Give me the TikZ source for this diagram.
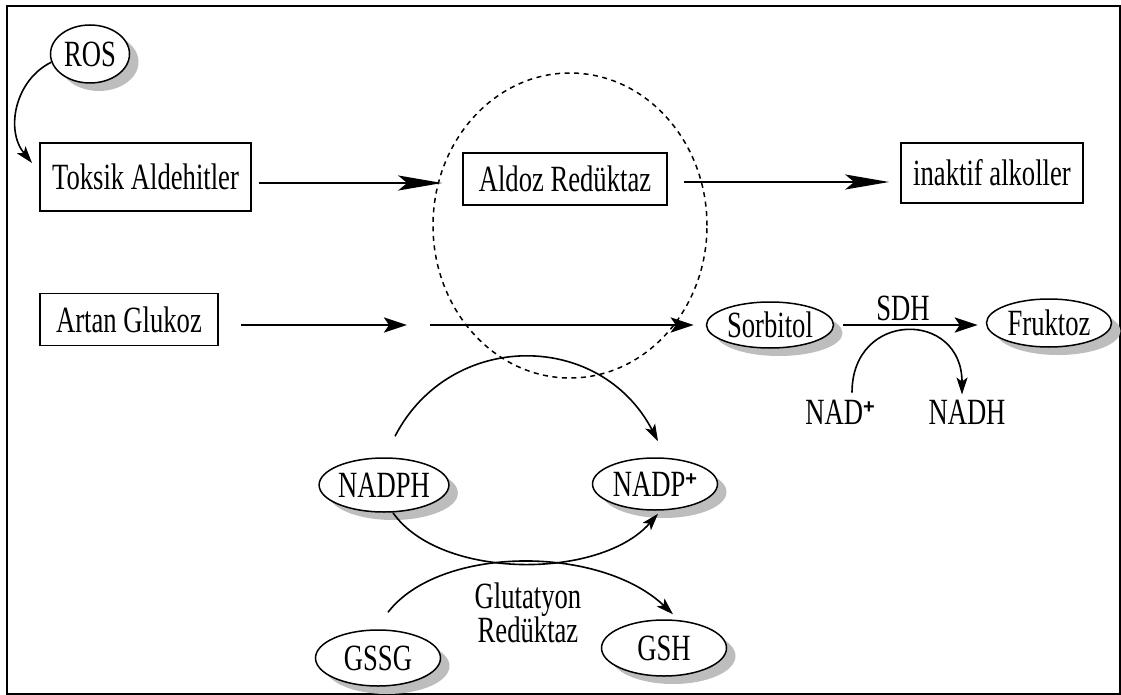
\documentclass[tikz,border=0pt]{standalone}
\usepackage{fontspec}
\setmainfont[FakeStretch=0.72]{Liberation Serif}
\newfontfamily\plusfont{Liberation Sans}
\usetikzlibrary{shapes.geometric,shadows,arrows.meta}

\newcommand{\plussup}{\raisebox{0.62ex}{\plusfont\fontsize{20}{20}\selectfont\bfseries +}}

\begin{document}
\begin{tikzpicture}[x=1pt,y=-1pt,
  every node/.style={font=\fontsize{37}{33}\selectfont},
  box/.style={draw, line width=1.6pt, rectangle, inner sep=0pt},
  ell/.style={ellipse, draw, line width=1.5pt, fill=white, inner sep=0pt,
    minimum width=125pt, minimum height=52pt,
    drop shadow={shadow xshift=9pt, shadow yshift=-8pt, fill=black!26, opacity=1}},
  label/.style={inner sep=0pt},
  longarrow/.style={line width=2.8pt, -{Stealth[length=44pt, width=15pt, inset=9pt]}},
  medarrow/.style={line width=2.8pt, -{Stealth[length=23pt, width=15pt, inset=5pt]}},
  curvearrow/.style={line width=1.6pt, -{Stealth[length=17pt, width=11pt, inset=4pt]}},
  zone/.style={ellipse, draw, dashed, dash pattern=on 5pt off 4.5pt, line width=1.5pt, inner sep=0pt}
]
\useasboundingbox (0,0) rectangle (1121,695);
\draw[line width=2pt] (7,6) rectangle (1120,694);

% enzyme zone of aldose reductase
\node[zone, minimum width=274pt, minimum height=305pt] (zone) at (570,225.5) {};

% rectangles
\node[box, minimum width=211pt, minimum height=68pt] (toksik) at (145.5,177) {Toksik Aldehitler};
\node[box, minimum width=204pt, minimum height=52pt] (aldoz) at (565,179) {Aldoz Redüktaz};
\node[box, minimum width=182pt, minimum height=60pt] (inaktif) at (992,173) {inaktif alkoller};
\node[box, minimum width=178pt, minimum height=52pt] (artan) at (129,319.5) {Artan Glukoz};

% ellipses
\node[ell, minimum width=79pt, minimum height=58pt] (ros) at (90,54) {ROS};
\node[ell, minimum width=127pt, minimum height=46pt] (sorbitol) at (770,325) {Sorbitol};
\node[ell, minimum width=125pt, minimum height=48pt] (fruktoz) at (1049,323) {Fruktoz};
\node[ell, minimum height=54pt] (nadph) at (384,485) {NADPH};
\node[ell] (nadpp) at (655,484) {NADP\plussup};
\node[ell, minimum height=56pt] (gssg) at (378,658) {GSSG};
\node[ell, minimum height=56pt] (gsh) at (664,648) {GSH};

% free labels
\node[label] (sdh) at (903,308) {SDH};
\node[label] (nad) at (840,412) {NAD\plussup};
\node[label] (nadh) at (967,412) {NADH};
\node[label, align=center] (gr) at (528,613) {Glutatyon\\Redüktaz};

% gap in the glucose pathway
\coordinate (gapL) at (407,325);
\coordinate (gapR) at (430,325);
\coordinate (rosTip) at (32,163);

% connectors
\draw[curvearrow] (ros.192) .. controls (15,80) and (5,130) .. (rosTip);
\draw[longarrow, shorten <=7pt, shorten >=20pt] ([yshift=-6pt]toksik.east) -- ([yshift=-4pt]aldoz.west);
\draw[longarrow, shorten <=16pt, shorten >=11pt] ([yshift=-3pt]aldoz.east) -- ([yshift=-9pt]inaktif.west);
\draw[medarrow, shorten <=22pt] ([yshift=-5.5pt]artan.east) -- (gapL);
\draw[medarrow, shorten >=12pt] (gapR) -- (sorbitol.west);
\draw[medarrow, shorten <=9pt, shorten >=8pt] (sorbitol.east) -- (sorbitol.east -| fruktoz.west);
\draw[curvearrow] ([shift={(12pt,7pt)}]nad.north) .. controls (852,310) and (962,310) .. ([shift={(-5pt,5pt)}]nadh.north);

\draw[curvearrow] ([shift={(11pt,21pt)}]nadph.north) .. controls (450,330) and (600,330) .. ([shift={(3pt,16pt)}]nadpp.north);
\draw[curvearrow] ([shift={(9pt,0pt)}]nadph.south) .. controls (440,580) and (600,580) .. ([shift={(3pt,-3pt)}]nadpp.south);
\draw[curvearrow] ([shift={(10pt,17pt)}]gssg.north) .. controls (440,545) and (600,545) .. ([shift={(9pt,5pt)}]gsh.north);
\end{tikzpicture}
\end{document}
